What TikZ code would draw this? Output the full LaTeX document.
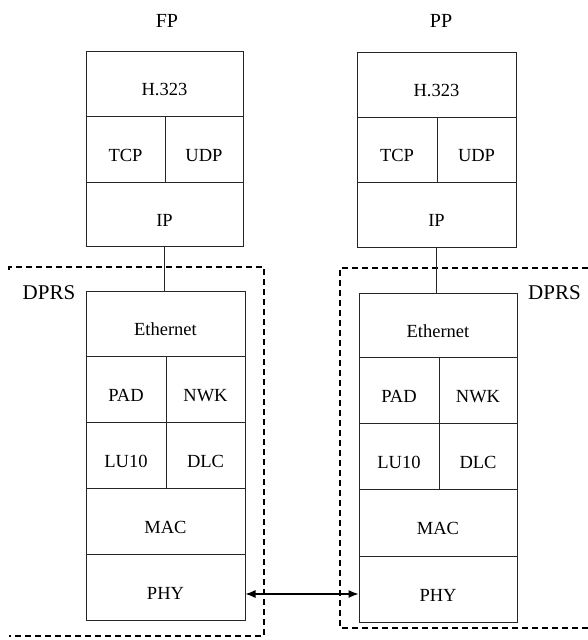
\documentclass[tikz,border=0pt]{standalone}
\usepackage{fontspec}
\setmainfont{Liberation Serif}
\usetikzlibrary{arrows.meta}
\tikzset{
  cell/.style={draw=black!85, line width=1pt, inner sep=0pt, align=center,
    font=\fontsize{18.5}{20}\selectfont, text height=24pt, text depth=0pt},
  title/.style={anchor=base, inner sep=0pt, font=\fontsize{20}{22}\selectfont},
  dprs/.style={anchor=base, inner sep=0pt, font=\fontsize{21}{23}\selectfont},
  region/.style={draw=black, line width=1.3pt, dash pattern=on 6pt off 4pt},
  link/.style={draw=black!85, line width=1pt},
  biarrow/.style={draw=black, line width=1.1pt, {Latex[length=10pt,width=8pt]}-{Latex[length=10pt,width=8pt]}}
}
\newcommand{\cell}[6]{%
  \pgfmathsetmacro{\cx}{(#2+#4)/2}\pgfmathsetmacro{\cy}{(#3+#5)/2}%
  \pgfmathsetmacro{\cw}{#4-#2}\pgfmathsetmacro{\ch}{#5-#3}%
  \node[cell, minimum width=\cw pt, minimum height=\ch pt] (#1) at (\cx,\cy) {#6};}
\begin{document}
\begin{tikzpicture}[x=1pt,y=-1pt]
\useasboundingbox (0,0) rectangle (588,640);
% dashed regions
\draw[region] (9,270) -- (9,267) -- (264,267) -- (264,636) -- (9,636);
\draw[region] (588,268) -- (340,268) -- (340,628) -- (588,628);
% titles
\node[title] (fp) at (167,27) {FP};
\node[title] (pp) at (441,27) {PP};
\node[dprs] (dl) at (49,299) {DPRS};
\node[dprs] (dr) at (554.5,299) {DPRS};
% left upper stack
\cell{lh}{86}{51}{243}{116}{H.323}
\cell{ltcp}{86}{116}{165}{182}{TCP}
\cell{ludp}{165}{116}{243}{182}{UDP}
\cell{lip}{86}{182}{243}{246}{IP}
% right upper stack
\cell{rh}{357}{52}{516}{117}{H.323}
\cell{rtcp}{357}{117}{437}{182}{TCP}
\cell{rudp}{437}{117}{516}{182}{UDP}
\cell{rip}{357}{182}{516}{247}{IP}
% left lower stack
\cell{leth}{86}{291}{245}{356}{Ethernet}
\cell{lpad}{86}{356}{166}{422}{PAD}
\cell{lnwk}{166}{356}{245}{422}{NWK}
\cell{llu}{86}{422}{166}{488}{LU10}
\cell{ldlc}{166}{422}{245}{488}{DLC}
\cell{lmac}{86}{488}{245}{554}{MAC}
\cell{lphy}{86}{554}{245}{620}{PHY}
% right lower stack
\cell{reth}{359}{293}{517}{357}{Ethernet}
\cell{rpad}{359}{357}{439}{423}{PAD}
\cell{rnwk}{439}{357}{517}{423}{NWK}
\cell{rlu}{359}{423}{439}{489}{LU10}
\cell{rdlc}{439}{423}{517}{489}{DLC}
\cell{rmac}{359}{489}{517}{556}{MAC}
\cell{rphy}{359}{556}{517}{622}{PHY}
% connectors
\draw[link] (lip.south) -- (lip.south |- leth.north);
\draw[link] (rip.south) -- (rip.south |- reth.north);
\draw[biarrow] ([yshift=-7pt]lphy.east) -- ([yshift=-5pt]rphy.west);
\end{tikzpicture}
\end{document}
